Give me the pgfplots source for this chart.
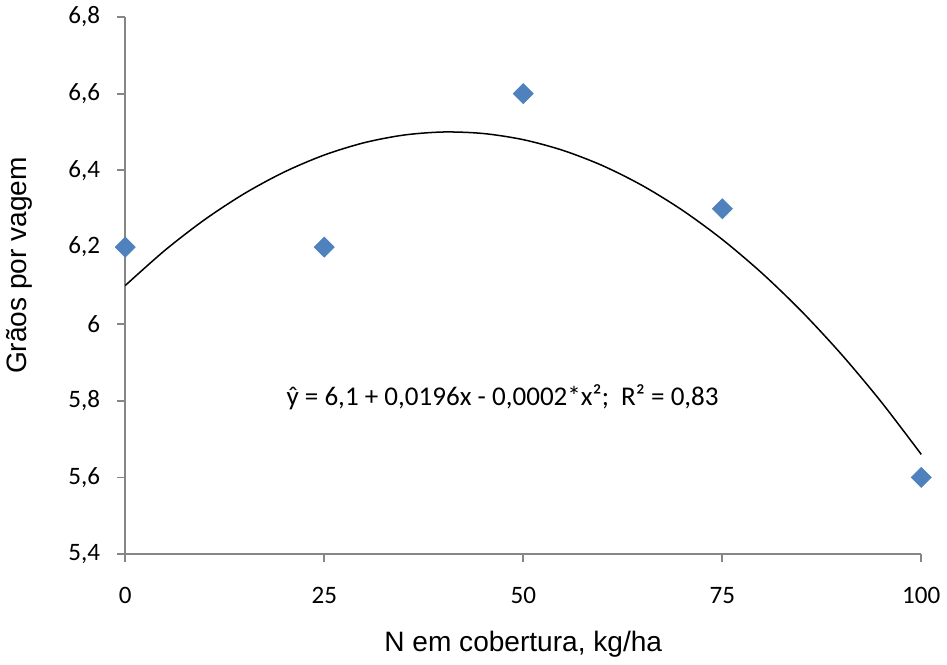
\documentclass[border=0pt]{standalone}
\usepackage{fontspec}
\setmainfont{Liberation Sans}
\newfontfamily\calibri{Carlito}
\usepackage{pgfplots}
\pgfplotsset{compat=1.18}
\definecolor{markblue}{HTML}{4F81BD}
\definecolor{axisgray}{HTML}{868686}
\begin{document}
\begin{tikzpicture}
\begin{axis}[
    scale only axis,
    width=397pt,
    height=268pt,
    xmin=0, xmax=100,
    ymin=5.4, ymax=6.8,
    xtick={0,25,50,75,100},
    ytick={5.4,5.6,5.8,6,6.2,6.4,6.6,6.8},
    axis x line*=bottom,
    axis y line*=left,
    axis line style={draw=axisgray, line width=0.9pt},
    tick style={draw=axisgray, line width=0.9pt},
    tick align=outside,
    major tick length=4pt,
    /pgf/number format/assume math mode=true,
    /pgf/number format/use comma,
    /pgf/number format/fixed,
    /pgf/number format/precision=1,
    tick label style={font=\calibri\fontsize{12.5}{14}\selectfont, text=black},
    xticklabel style={yshift=-9pt},
    yticklabel style={xshift=-5pt},
    xlabel={N em cobertura, kg/ha},
    ylabel={Grãos por vagem},
    label style={font=\fontsize{14}{16}\selectfont},
    xlabel style={yshift=-7pt},
    ylabel style={yshift=11pt, xshift=10pt},
    clip=false,
]
\addplot[black, line width=0.75pt, smooth] coordinates {
  (0,6.100) (5,6.192) (10,6.272) (15,6.340) (20,6.396) (25,6.440)
  (30,6.472) (35,6.492) (40,6.500) (45,6.496) (50,6.480) (55,6.452)
  (60,6.412) (65,6.360) (70,6.296) (75,6.220) (80,6.132) (85,6.032)
  (90,5.920) (95,5.796) (100,5.660)
};
\addplot[only marks, mark=square*, mark size=3.5pt,
         mark options={rotate=45, fill=markblue, draw=markblue}] coordinates {
  (0,6.2) (25,6.2) (50,6.6) (75,6.3) (100,5.6)
};
\node[font=\calibri\fontsize{13.5}{15}\selectfont] at (axis cs:47.4,5.81)
  {ŷ = 6,1 + 0,0196x - 0,0002*x²;\ \ R² = 0,83};
\end{axis}
\end{tikzpicture}
\end{document}
